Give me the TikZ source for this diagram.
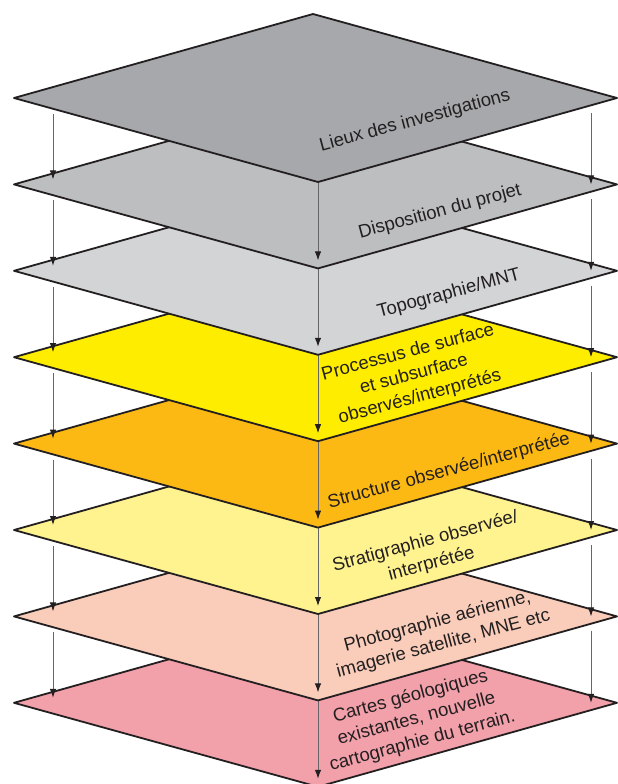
\documentclass[tikz,border=0pt]{standalone}
\usepackage{fontspec}
\setmainfont{Liberation Sans}
\usetikzlibrary{arrows.meta,calc}
\definecolor{edge}{HTML}{231F20}
\definecolor{lay1}{HTML}{A6A8AB}
\definecolor{lay2}{HTML}{BDBEC0}
\definecolor{lay3}{HTML}{D3D4D6}
\definecolor{lay4}{HTML}{FFED00}
\definecolor{lay5}{HTML}{FDB913}
\definecolor{lay6}{HTML}{FFF38F}
\definecolor{lay7}{HTML}{F9CDBA}
\definecolor{lay8}{HTML}{F2A0AA}
\tikzset{
  layer/.style={draw=edge,line width=1.8pt,line join=round},
  flow/.style={draw=black!60,line width=1pt,-{Latex[length=9pt,width=6.5pt,color=edge]}},
  lbl/.style={text=edge,rotate=15,align=center,font=\fontsize{18.5}{23}\selectfont}
}
\begin{document}
\begin{tikzpicture}[x=1pt,y=-1pt]
  \useasboundingbox (0,0) rectangle (618,784);
  \clip (0,0) rectangle (618,784);
  \foreach \i in {1,...,8}
    \coordinate (c\i) at (315.5,{98+86.4*(\i-1)});
  % layers from the bottom up, arrows come down into each one
  \foreach \i in {8,...,1}{
    \draw[layer,fill=lay\i] ($(c\i)+(-301.5,0)$) -- ($(c\i)+(-2.5,-84)$)
      -- ($(c\i)+(301.5,0)$) -- ($(c\i)+(2.5,84)$) -- cycle;
    \ifnum\i>1
      \pgfmathtruncatemacro\k{\i-1}
      \draw[flow] ($(c\k)+(-262.5,16)$) -- ($(c\i)+(-262.5,-5)$);
      \draw[flow] ($(c\k)+(2.5,84)$) -- ($(c\i)+(2.5,76)$);
      \draw[flow] ($(c\k)+(275.5,15)$) -- ($(c\i)+(275.5,0)$);
    \fi
  }
  \node[lbl] (lieux) at (415,121) {Lieux des investigations};
  \node[lbl] (dispo) at (440,212) {Disposition du projet};
  \node[lbl] (topo) at (449,294) {Topographie/MNT};
  \node[lbl] (proc) at (414,375) {Processus de surface\\et subsurface\\observés/interprétés};
  \node[lbl] (struct) at (449,471) {Structure observée/interprétée};
  \node[lbl] (strat) at (428.5,553) {Stratigraphie observée/\\interprétée};
  \node[lbl] (photo) at (440.5,633) {Photographie aérienne,\\imagerie satellite, MNE etc};
  \node[lbl] (cartes) at (416.5,719) {Cartes géologiques\\existantes, nouvelle\\cartographie du terrain.};
\end{tikzpicture}
\end{document}
